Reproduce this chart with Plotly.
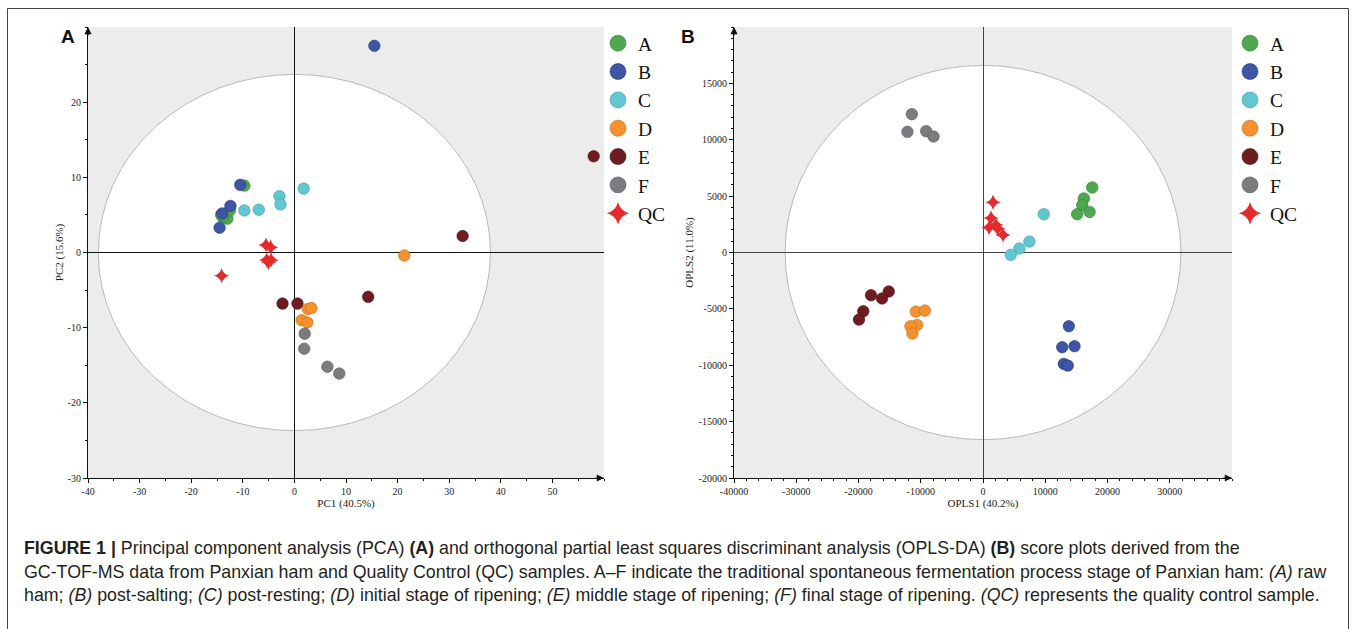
import plotly.graph_objects as go

W, H = 1355, 629

groups = ["A", "B", "C", "D", "E", "F", "QC"]
colors = ["#4FA84F", "#3D55A5", "#62C7D1", "#F5922F", "#6F1C21", "#7B7C7F", "#E52A2C"]
edges = ["#2F7A33", "#26387A", "#3C9AA3", "#C0691A", "#4A0F13", "#555659", "#B01518"]

# Panel A: PCA scores (PC1, PC2)
pca_A_x = [-9.7, -13.0, -13.9, -12.5, -14.2]
pca_A_y = [8.9, 4.5, 4.7, 5.6, 5.0]
pca_B_x = [-10.5, -12.4, -14.0, -14.5, 15.5]
pca_B_y = [9.0, 6.2, 5.2, 3.3, 27.5]
pca_C_x = [-9.7, -6.9, -2.9, -2.7, 1.8]
pca_C_y = [5.6, 5.7, 7.5, 6.4, 8.5]
pca_D_x = [21.3, 2.6, 3.3, 1.4, 2.5]
pca_D_y = [-0.4, -7.5, -7.4, -9.0, -9.3]
pca_E_x = [58.0, 32.6, 14.3, -2.3, 0.6]
pca_E_y = [12.8, 2.2, -5.9, -6.8, -6.8]
pca_F_x = [2.0, 1.9, 6.4, 8.7]
pca_F_y = [-10.8, -12.8, -15.2, -16.1]
pca_QC_x = [-5.5, -4.6, -5.4, -4.5, -5.0, -14.1]
pca_QC_y = [1.0, 0.7, -1.0, -1.0, -1.3, -3.1]

# Panel B: OPLS-DA scores (OPLS1, OPLS2)
opls_A_x = [17550, 16200, 15940, 15130, 17120]
opls_A_y = [5770, 4790, 4200, 3400, 3600]
opls_B_x = [13790, 12720, 14700, 12980, 13620]
opls_B_y = [-6540, -8400, -8310, -9880, -10030]
opls_C_x = [9760, 7460, 5850, 4450]
opls_C_y = [3400, 970, 350, -210]
opls_D_x = [-10790, -9340, -10580, -11660, -11340]
opls_D_y = [-5240, -5150, -6420, -6540, -7190]
opls_E_x = [-17990, -15140, -16220, -19230, -19920]
opls_E_y = [-3790, -3460, -4080, -5210, -5950]
opls_F_x = [-11430, -12140, -9130, -7950]
opls_F_y = [12270, 10700, 10760, 10290]
opls_QC_x = [1610, 1290, 966, 2090, 2350, 3220]
opls_QC_y = [4460, 3070, 2220, 2450, 2130, 1560]

# tick labels
pca_xticks = [-40, -30, -20, -10, 0, 10, 20, 30, 40, 50]
pca_yticks = [-30, -20, -10, 0, 10, 20]
opls_xticks = [-40000, -30000, -20000, -10000, 0, 10000, 20000, 30000]
opls_yticks = [-20000, -15000, -10000, -5000, 0, 5000, 10000, 15000]

# Hotelling T2 ellipse semi-axes
pca_ellipse = (38.0, 23.7)
opls_ellipse = (31800, 16600)

pca_xs = [pca_A_x, pca_B_x, pca_C_x, pca_D_x, pca_E_x, pca_F_x, pca_QC_x]
pca_ys = [pca_A_y, pca_B_y, pca_C_y, pca_D_y, pca_E_y, pca_F_y, pca_QC_y]
opls_xs = [opls_A_x, opls_B_x, opls_C_x, opls_D_x, opls_E_x, opls_F_x, opls_QC_x]
opls_ys = [opls_A_y, opls_B_y, opls_C_y, opls_D_y, opls_E_y, opls_F_y, opls_QC_y]

SERIF = "Liberation Serif, Times New Roman, serif"

fig = go.Figure()
draw_order = [0, 1, 2, 4, 3, 5, 6]
for xs, ys, xa, ya in [(pca_xs, pca_ys, "x", "y"), (opls_xs, opls_ys, "x2", "y2")]:
    for i in draw_order:
        qc = groups[i] == "QC"
        fig.add_trace(go.Scatter(
            x=xs[i], y=ys[i], mode="markers", xaxis=xa, yaxis=ya, showlegend=False,
            name=groups[i], hoverinfo="x+y+name",
            marker=dict(size=11 if qc else 11.5, color=colors[i],
                        symbol="star-diamond" if qc else "circle",
                        line=dict(width=0 if qc else 0.6, color=edges[i]))))

# legend entries
for leg in ["legend", "legend2"]:
    for i, g in enumerate(groups):
        qc = g == "QC"
        fig.add_trace(go.Scatter(
            x=[None], y=[None], mode="markers", name=g, legend=leg, showlegend=True,
            marker=dict(size=16, color=colors[i],
                        symbol="star-diamond" if qc else "circle",
                        line=dict(width=0 if qc else 0.6, color=edges[i]))))


def px_x(p):
    return p / W


def px_y(p):
    return 1 - p / H


def fmt(v):
    return ("-" if v < 0 else "") + str(abs(v))


dom_y = [px_y(478), px_y(27)]
tickfont = dict(family=SERIF, size=10, color="#222")
titlefont = dict(family=SERIF, size=11, color="#222")

common_axis = dict(showgrid=False, showline=True, linecolor="#111", linewidth=1.2,
                   ticks="outside", ticklen=4, tickcolor="#111", tickwidth=1,
                   tickfont=tickfont, zeroline=True, zerolinecolor="#111",
                   zerolinewidth=1.2, mirror=False, automargin=False)

legend_style = dict(xanchor="left", yanchor="top", font=dict(family=SERIF, size=19.5, color="#111"),
                    bgcolor="rgba(0,0,0,0)", tracegroupgap=0, itemwidth=30)

fig.update_layout(
    width=W, height=H, margin=dict(l=0, r=0, t=0, b=0, autoexpand=False),
    paper_bgcolor="white", plot_bgcolor="#ECECEC",
    xaxis=dict(domain=[px_x(88), px_x(604)], range=[-40, 60],
               tickvals=pca_xticks, ticktext=[fmt(v) for v in pca_xticks],
               anchor="y", title=dict(text="PC1 (40.5%)", font=titlefont, standoff=2),
               minor=dict(dtick=5, tick0=0, ticks="outside", ticklen=2, tickcolor="#111"),
               **common_axis),
    yaxis=dict(domain=dom_y, range=[-30, 30],
               tickvals=pca_yticks, ticktext=[fmt(v) for v in pca_yticks], anchor="x",
               title=dict(text="PC2 (15.6%)", font=titlefont, standoff=1),
               minor=dict(dtick=5, tick0=0, ticks="outside", ticklen=2, tickcolor="#111"),
               **common_axis),
    xaxis2=dict(domain=[px_x(734), px_x(1232)], range=[-40000, 40000],
                tickvals=opls_xticks, ticktext=[fmt(v) for v in opls_xticks],
                anchor="y2", title=dict(text="OPLS1 (40.2%)", font=titlefont, standoff=2),
                minor=dict(dtick=2000, tick0=0, ticks="outside", ticklen=2, tickcolor="#111"),
                **common_axis),
    yaxis2=dict(domain=dom_y, range=[-20000, 20000],
                tickvals=opls_yticks, ticktext=[fmt(v) for v in opls_yticks], anchor="x2",
                title=dict(text="OPLS2 (11.0%)", font=titlefont, standoff=2),
                minor=dict(dtick=1000, tick0=0, ticks="outside", ticklen=2, tickcolor="#111"),
                **common_axis),
    legend=dict(x=px_x(598), y=px_y(24), **legend_style),
    legend2=dict(x=px_x(1230), y=px_y(24), **legend_style),
)
fig.layout.xaxis2.zerolinecolor = "#444"
fig.layout.yaxis2.zerolinecolor = "#444"
fig.layout.xaxis2.zerolinewidth = 1
fig.layout.yaxis2.zerolinewidth = 1

# ellipses
for (a, b), xr, yr in [(pca_ellipse, "x", "y"), (opls_ellipse, "x2", "y2")]:
    fig.add_shape(type="circle", xref=xr, yref=yr, x0=-a, x1=a, y0=-b, y1=b,
                  fillcolor="white", line=dict(color="#B8B8B8", width=1), layer="below")

# axis arrows
arrows = [("x", "y", 60, -30, -10, 0), ("x", "y", -40, 30, 0, 10),
          ("x2", "y2", 40000, -20000, -10, 0), ("x2", "y2", -40000, 20000, 0, 10)]
for xr, yr, ax_, ay_, dx, dy in arrows:
    fig.add_annotation(x=ax_, y=ay_, xref=xr, yref=yr, ax=dx, ay=dy, text="",
                       showarrow=True, arrowhead=2, arrowsize=1.2, arrowwidth=1.2,
                       arrowcolor="#111")

# panel letters
for lab, xp in [("A", 68), ("B", 688)]:
    fig.add_annotation(x=px_x(xp), y=px_y(36), xref="paper", yref="paper", text="<b>%s</b>" % lab,
                       showarrow=False, xanchor="center", yanchor="middle",
                       font=dict(family="Liberation Sans, Arial", size=19, color="#111"))

# outer frame
fig.add_shape(type="rect", xref="paper", yref="paper", x0=px_x(7.5), x1=px_x(1348.5),
              y0=-0.1, y1=px_y(8.5), line=dict(color="#444", width=1))

cap_lines = [
    "<b>FIGURE 1 |</b> Principal component analysis (PCA) <b>(A)</b> and orthogonal partial least squares discriminant analysis (OPLS-DA) <b>(B)</b> score plots derived from the",
    "GC-TOF-MS data from Panxian ham and Quality Control (QC) samples. A–F indicate the traditional spontaneous fermentation process stage of Panxian ham: <i>(A)</i> raw",
    "ham; <i>(B)</i> post-salting; <i>(C)</i> post-resting; <i>(D)</i> initial stage of ripening; <i>(E)</i> middle stage of ripening; <i>(F)</i> final stage of ripening. <i>(QC)</i> represents the quality control sample.",
]
for line, yp in zip(cap_lines, [548, 572, 595]):
    fig.add_annotation(x=px_x(22), y=px_y(yp), xref="paper", yref="paper", text=line,
                       xanchor="left", yanchor="middle", showarrow=False,
                       font=dict(family="Liberation Sans, Arial, sans-serif", size=17.8, color="#231F20"))

fig.write_html("out.html", config={"displayModeBar": False},
               post_script="document.body.style.margin='0';document.body.style.overflow='hidden';")
